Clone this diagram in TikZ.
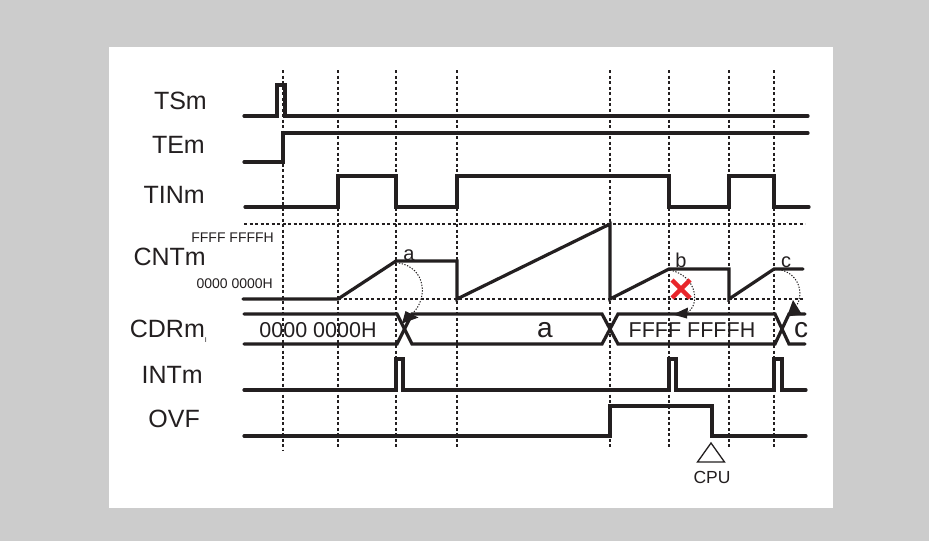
\documentclass[tikz,border=0pt]{standalone}
\usepackage{fontspec}
\setmainfont{Liberation Sans}
\usetikzlibrary{arrows.meta}
\definecolor{ink}{HTML}{231F20}
\definecolor{bggray}{HTML}{CCCCCC}
\definecolor{xred}{HTML}{E8262B}
\begin{document}
\begin{tikzpicture}[x=1pt,y=-1pt,
  sig/.style={line width=3.2pt, line cap=round, line join=miter, draw=ink},
  gridline/.style={line width=1.7pt, dash pattern=on 3pt off 2.5pt, draw=ink},
  arcline/.style={line width=1pt, dash pattern=on 1.3pt off 1.5pt, draw=ink},
  lbl/.style={font=\fontsize{25}{25}\selectfont, anchor=base east, text=ink, inner sep=0},
  small/.style={font=\fontsize{14}{14}\selectfont, anchor=base east, text=ink, inner sep=0},
  bus/.style={font=\fontsize{21.5}{21.5}\selectfont, anchor=base, text=ink, inner sep=0},
  buslc/.style={font=\fontsize{28}{28}\selectfont, anchor=base, text=ink, inner sep=0},
  val/.style={font=\fontsize{20}{20}\selectfont, anchor=base, text=ink, inner sep=0},
  head/.style={fill=ink}
]
\useasboundingbox (0,0) rectangle (929,541);
\fill[bggray] (0,0) rectangle (929,541);
\fill[white] (109,47) rectangle (833,508);

% vertical dashed guides
\foreach \x/\yb in {283/450,338/447,396/447,457/447,610/448,669/447,729/447,774/447}
  \draw[gridline] (\x,70) -- (\x,\yb);
% horizontal dashed guides
\draw[gridline] (244,224) -- (805,224);
\draw[gridline] (338,299) -- (805,299);

% labels
\node[lbl] (lts) at (207,109) {TSm};
\node[lbl] (lte) at (205,153) {TEm};
\node[lbl] (lti) at (205,203) {TINm};
\node[lbl] (lcn) at (206,265) {CNTm};
\node[lbl] (lcd) at (207,337) {CDRm\raisebox{-5pt}{\fontsize{7}{7}\selectfont I}};
\node[lbl] (lin) at (203,383) {INTm};
\node[lbl] (lov) at (200,427) {OVF};
\node[small] (lff) at (274,242) {FFFF FFFFH};
\node[small] (l00) at (273,288) {0000 0000H};

% TSm
\draw[sig] (244,116) -- (277,116) -- (277,85) -- (285,85) -- (285,116) -- (808,116);
% TEm
\draw[sig] (244,162) -- (283,162) -- (283,133) -- (808,133);
% TINm
\draw[sig] (245,207) -- (338,207) -- (338,176) -- (396,176) -- (396,207) -- (457,207) -- (457,176)
  -- (669,176) -- (669,207) -- (729,207) -- (729,176) -- (774,176) -- (774,207) -- (809,207);
% CNTm
\draw[sig] (243,299) -- (338,299) -- (396,261) -- (457,261) -- (457,299) -- (610,224) -- (610,299)
  -- (669,269) -- (729,269) -- (729,299) -- (774,269) -- (803,269);
\node[val] (va) at (409,260) {a};
\node[val] (vb) at (681,267) {b};
\node[val] (vc) at (786,267) {c};

% CDRm bus
\draw[sig] (244,314) -- (397,314) -- (412,344) -- (602,344) -- (618,314) -- (775,314) -- (789,344) -- (805,344);
\draw[sig] (244,344) -- (397,344) -- (412,314) -- (602,314) -- (618,344) -- (775,344) -- (789,314) -- (805,314);
\node[bus] (b0) at (318,337) {0000 0000H};
\node[buslc] (ba) at (545,337) {a};
\node[bus] (bf) at (692,337) {FFFF FFFFH};
\node[buslc] (bc) at (801,337) {c};

% transfer arcs
\draw[arcline] (399,263) .. controls (426,268) and (428,298) .. (413,313);
\fill[head] (402,323.5) -- (405.5,311) -- (418.5,317.5) -- cycle;
\draw[arcline] (670,270) .. controls (697,276) and (700,304) .. (688,312);
\fill[head] (673,314.5) -- (688,307.5) -- (687,318.5) -- cycle;
\draw[arcline] (776,269) .. controls (801,272) and (803,295) .. (797,305);
\fill[head] (793,300) -- (787,316.5) -- (802,314.5) -- cycle;

% red cross
\draw[xred, line width=4.5pt] (672,280) -- (690,298) (672,298) -- (690,280);

% INTm
\draw[sig] (244,390) -- (396,390) -- (396,359) -- (403,359) -- (403,390) -- (669,390) -- (669,359)
  -- (676,359) -- (676,390) -- (774,390) -- (774,359) -- (782,359) -- (782,390) -- (806,390);
% OVF
\draw[sig] (244,436) -- (610,436) -- (610,406) -- (712,406) -- (712,436) -- (806,436);

% CPU marker
\draw[ink, line width=1.3pt, fill=white] (711,443) -- (697.5,462) -- (724.5,462) -- cycle;
\node[font=\fontsize{17.5}{17.5}\selectfont, anchor=base, text=ink, inner sep=0] (cpu) at (712,483) {CPU};
\end{tikzpicture}
\end{document}
